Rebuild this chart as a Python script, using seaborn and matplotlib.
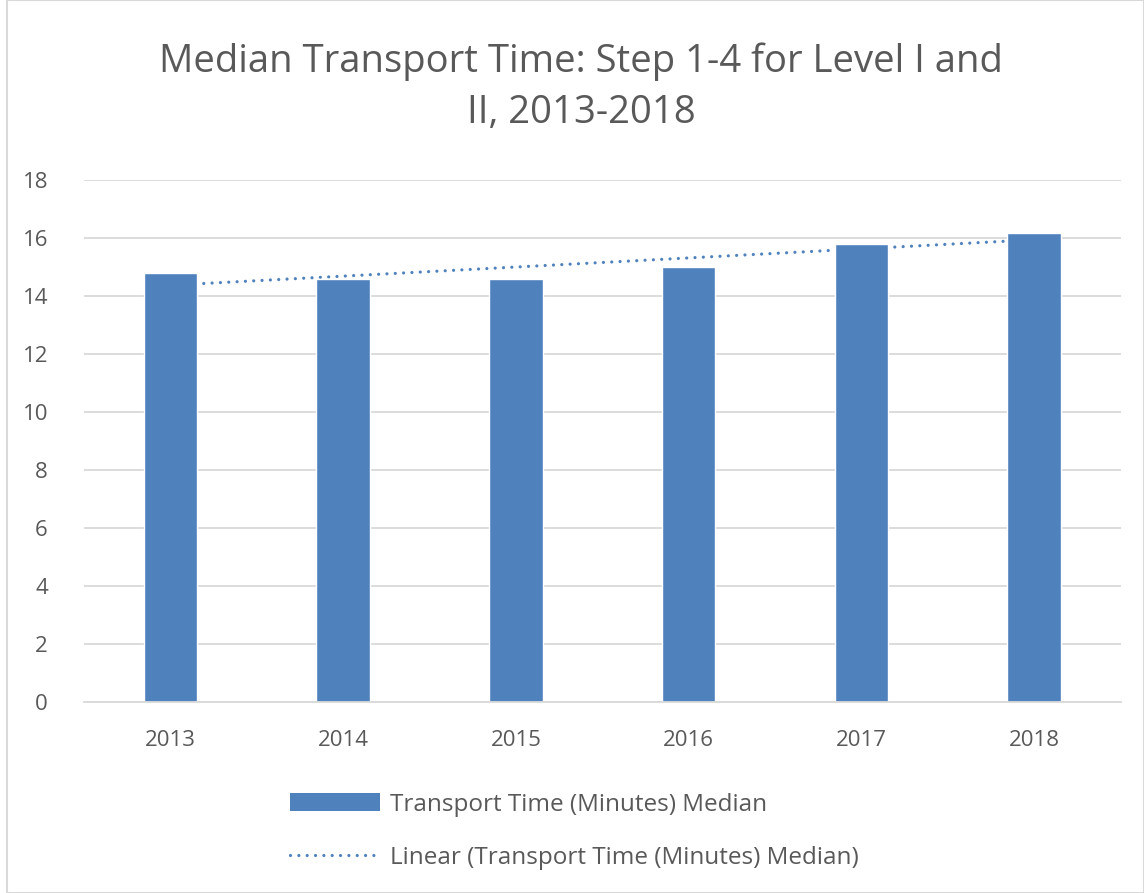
import matplotlib
matplotlib.use("Agg")
import matplotlib.pyplot as plt
import seaborn as sns
import pandas as pd
import numpy as np
from matplotlib.patches import Rectangle, Patch
from matplotlib.lines import Line2D

years = ["2013", "2014", "2015", "2016", "2017", "2018"]
median_minutes = [14.8, 14.6, 14.6, 15.0, 15.8, 16.2]
y_ticks = [0, 2, 4, 6, 8, 10, 12, 14, 16, 18]

bar_color = "#4F81BD"
text_color = "#595959"
grid_color = "#D9D9D9"
dots = (0, (0.01, 2.6))

sns.set_style("white")
plt.rcParams["font.family"] = ["Open Sans", "DejaVu Sans"]

df = pd.DataFrame({"Year": years, "Median": median_minutes})

fig = plt.figure(figsize=(11.44, 8.93), dpi=100)
ax = fig.add_axes([0.0735, 0.214, 0.906, 0.584])

# linear trend line, fitted on the bar values, drawn behind the bars
x_idx = np.arange(len(years))
slope, intercept = np.polyfit(x_idx + 1, median_minutes, 1)
trend = slope * (x_idx + 1) + intercept
ax.plot(x_idx, trend, linestyle=dots, dash_capstyle="round", color=bar_color,
        linewidth=2.3, zorder=1)

sns.barplot(data=df, x="Year", y="Median", color=bar_color, width=0.31,
            saturation=1, ax=ax, zorder=2)

ax.set_xlim(-0.5, len(years) - 0.5)
ax.set_ylim(0, 18)
ax.set_yticks(y_ticks)
ax.set_xlabel("")
ax.set_ylabel("")
ax.yaxis.grid(True, color=grid_color, linewidth=1.3)
ax.set_axisbelow(True)
for side in ["left", "right", "top"]:
    ax.spines[side].set_visible(False)
ax.spines["bottom"].set_color(grid_color)
ax.spines["bottom"].set_linewidth(1.3)
ax.tick_params(axis="both", length=0, labelsize=16, colors=text_color, pad=20)
ax.tick_params(axis="y", pad=26)

fig.text(0.508, 0.902, "Median Transport Time: Step 1-4 for Level I and\nII, 2013-2018",
         ha="center", va="center", fontsize=27.5, color=text_color,
         linespacing=1.45)

handles = [Patch(facecolor=bar_color, edgecolor="none"),
           Line2D([0], [0], color=bar_color, linestyle=dots, dash_capstyle="round",
                  linewidth=2.3)]
labels = ["Transport Time (Minutes) Median",
          "Linear (Transport Time (Minutes) Median)"]
fig.legend(handles, labels, loc="upper left", bbox_to_anchor=(0.234, 0.137),
           frameon=False, fontsize=17.5, labelcolor=text_color, handlelength=3.7,
           handleheight=0.8, handletextpad=0.45, labelspacing=1.2)

fig.patches.append(Rectangle((0.006, 0.0), 0.994, 1.0, transform=fig.transFigure,
                             fill=False, edgecolor=grid_color, linewidth=1.5))

fig.savefig("out.png", dpi=100)
